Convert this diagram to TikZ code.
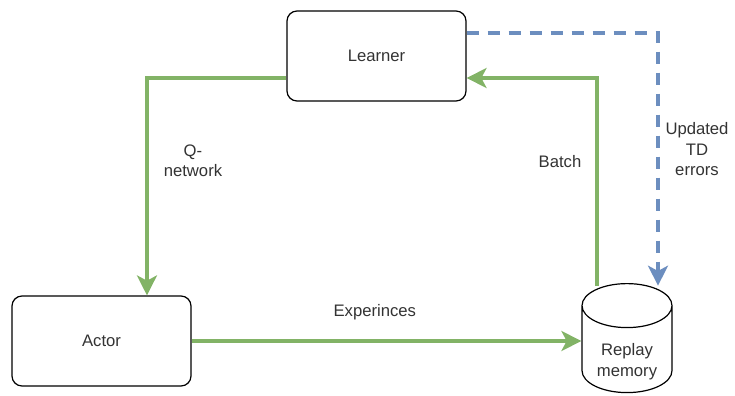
\documentclass[tikz,border=0pt]{standalone}
\usepackage{fontspec}
\setmainfont{Liberation Sans}
\usepackage{tikz}
\usetikzlibrary{arrows.meta,shapes.geometric}

\definecolor{flowgreen}{HTML}{82B366}
\definecolor{flowblue}{HTML}{6C8EBF}

\begin{document}
\begin{tikzpicture}[x=0.75pt,y=-0.75pt,font=\fontsize{12.5}{15.5}\selectfont,
  box/.style={draw,line width=0.9pt,rounded corners=7.5pt,minimum width=134.25pt,minimum height=67.5pt},
  store/.style={draw,line width=0.9pt,cylinder,shape border rotate=90,inner sep=3pt,aspect=5.5,minimum width=67.5pt,minimum height=81.75pt},
  flow/.style={flowgreen,line width=2.4pt,-{Stealth[length=15pt,width=15pt,inset=4pt]}},
  feedback/.style={flowblue,line width=2.4pt,dash pattern=on 9pt off 6.75pt,-{Stealth[length=15pt,width=15pt,inset=4pt]}},
  lbl/.style={text=black!80,align=center}]
\useasboundingbox (0,0) rectangle (735,396);
\node[box,text=black!80] (learner) at (376.5,56) {Learner};
\node[box,text=black!80] (actor) at (101.5,341) {Actor};
\node[store,anchor=north,label={[lbl,anchor=center,yshift=23.6pt]south:Replay\\memory}] (replay) at (627,283) {};
% green loop
\draw[flow] ([yshift=-16.5pt]learner.west) -| ([xshift=34.1pt]actor.north)
   node[lbl,pos=0.69,xshift=34.5pt] {Q-\\network};
\draw[flow] (actor.east) -- (actor.east -| replay.west)
   node[lbl,pos=0.47,yshift=21.75pt] {Experinces};
\draw[flow] ([xshift=-22.5pt,yshift=-2pt]replay.north) |- ([yshift=-16.5pt]learner.east)
   node[lbl,pos=0.3,xshift=-27.75pt] {Batch};
% priorities back to the memory
\draw[feedback] ([yshift=17.25pt]learner.east) -| ([xshift=23.25pt,yshift=-2pt]replay.north)
   node[lbl,pos=0.73,xshift=29.25pt] {Updated\\TD\\errors};
\end{tikzpicture}
\end{document}
